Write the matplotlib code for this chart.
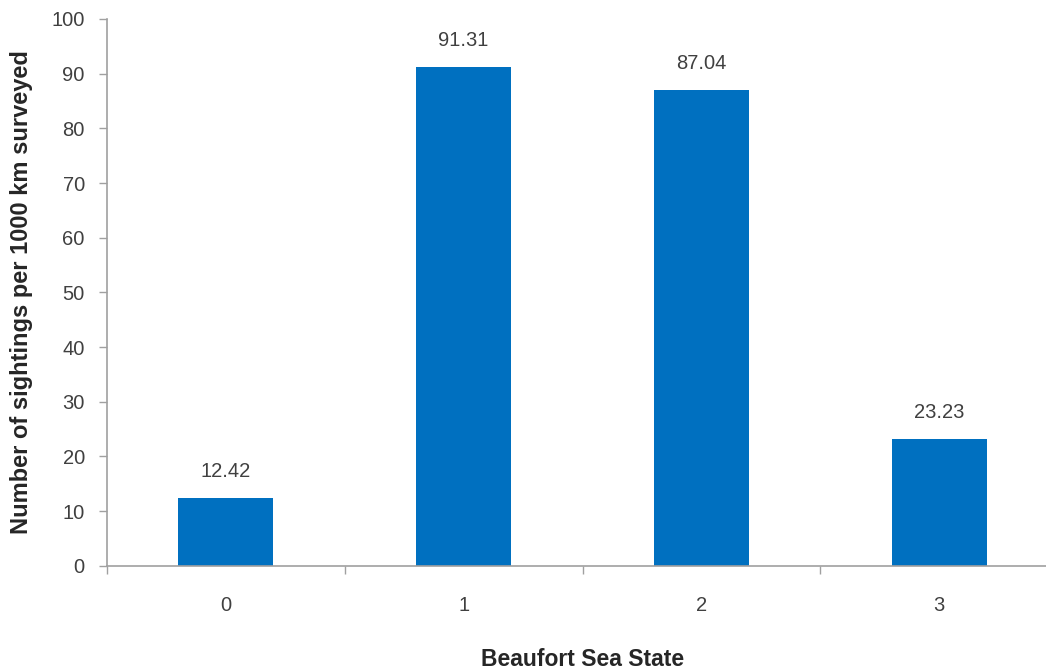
import matplotlib
matplotlib.use("Agg")
import matplotlib.pyplot as plt

# data
states = ["0", "1", "2", "3"]
sightings = [12.42, 91.31, 87.04, 23.23]
y_ticks = [0, 10, 20, 30, 40, 50, 60, 70, 80, 90, 100]

plt.rcParams["font.family"] = ["Liberation Sans", "DejaVu Sans"]

fig = plt.figure(figsize=(10.46, 6.69), dpi=100)
# axes runs past the right edge, as in the (cropped) original
ax = fig.add_axes([0.1023, 0.1544, 0.9092, 0.8172])

pos = list(range(len(states)))
ax.bar(pos, sightings, width=0.4, color="#0070C0", zorder=2)

for x, v in zip(pos, sightings):
    ax.annotate(f"{v:.2f}", (x, v), xytext=(0, 19), textcoords="offset points",
                ha="center", va="center", fontsize=14.5, color="#404040")

ax.set_xlim(-0.5, 3.5)
ax.set_ylim(0, 100)
ax.set_yticks(y_ticks)
ax.set_xticks(pos)
ax.set_xticklabels(states)
ax.set_xticks([p + 0.5 for p in range(-1, len(states))], minor=True)

axis_grey = "#A0A0A0"
for side in ["top", "right"]:
    ax.spines[side].set_visible(False)
for side in ["left", "bottom"]:
    ax.spines[side].set_color(axis_grey)
    ax.spines[side].set_linewidth(1.2)

ax.tick_params(axis="x", which="major", length=0, pad=22, labelsize=14.5, labelcolor="#404040")
ax.tick_params(axis="x", which="minor", length=6, width=1, color=axis_grey)
ax.tick_params(axis="y", length=6, width=1, color=axis_grey, pad=10,
               labelsize=14.5, labelcolor="#404040")

ax.set_xlabel("Beaufort Sea State", fontsize=16.5, fontweight="bold", color="#262626")
ax.set_ylabel("Number of sightings per 1000 km surveyed", fontsize=17, fontweight="bold",
              color="#262626")
ax.xaxis.set_label_coords(0.5, -0.1505)
ax.yaxis.set_label_coords(-0.0778, 0.5)

fig.savefig("out.png", dpi=100)
